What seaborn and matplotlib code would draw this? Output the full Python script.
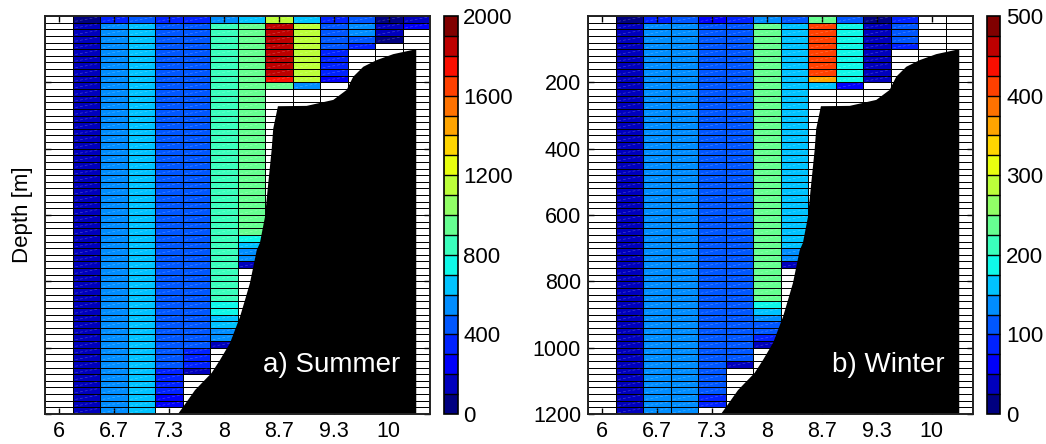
import numpy as np
import pandas as pd
import matplotlib
matplotlib.use("Agg")
import matplotlib.pyplot as plt
import seaborn as sns
from matplotlib.colors import ListedColormap
from matplotlib.collections import LineCollection

nan = np.nan

# ---- grid ----
lon_centers = [6.0, 6.333, 6.667, 7.0, 7.333, 7.667, 8.0, 8.333,
               8.667, 9.0, 9.333, 9.667, 10.0, 10.333]
depth_tops = list(range(0, 1200, 20))          # 60 layers of 20 m
xtick_values = [6.0, 6.667, 7.333, 8.0, 8.667, 9.333, 10.0]
xtick_labels = ["6", "6.7", "7.3", "8", "8.7", "9.3", "10"]
ytick_values = [200, 400, 600, 800, 1000, 1200]
ytick_labels = ["200", "400", "600", "800", "1000", "1200"]
summer_cbar_ticks = [0, 400, 800, 1200, 1600, 2000]
winter_cbar_ticks = [0, 100, 200, 300, 400, 500]

# ---- values: per column, (value, number of 20 m layers) from the surface ----
summer_runs = [
    [(nan, 60)],
    [(50, 1), (150, 59)],
    [(350, 1), (550, 59)],
    [(450, 1), (650, 59)],
    [(350, 1), (450, 52), (350, 4), (250, 2), (nan, 1)],
    [(350, 1), (450, 49), (350, 3), (150, 1), (nan, 6)],
    [(550, 1), (850, 42), (750, 2), (650, 2), (550, 2), (150, 1), (nan, 10)],
    [(650, 1), (950, 32), (750, 1), (650, 1), (550, 2), (150, 1), (nan, 22)],
    [(1150, 1), (1850, 8), (1750, 1), (950, 1), (nan, 49)],
    [(650, 1), (1150, 9), (550, 1), (nan, 49)],
    [(350, 1), (450, 4), (350, 4), (250, 1), (nan, 50)],
    [(450, 1), (550, 2), (450, 1), (350, 1), (nan, 55)],
    [(50, 1), (150, 2), (50, 1), (nan, 56)],
    [(150, 1), (250, 1), (nan, 58)],
]

winter_runs = [
    [(nan, 60)],
    [(12.5, 1), (37.5, 59)],
    [(87.5, 1), (137.5, 59)],
    [(112.5, 1), (137.5, 59)],
    [(62.5, 1), (112.5, 56), (87.5, 2), (nan, 1)],
    [(87.5, 1), (112.5, 51), (37.5, 1), (nan, 7)],
    [(137.5, 1), (237.5, 42), (187.5, 1), (162.5, 1), (137.5, 1),
     (112.5, 2), (87.5, 1), (37.5, 1), (nan, 10)],
    [(112.5, 1), (162.5, 34), (137.5, 2), (37.5, 1), (nan, 22)],
    [(237.5, 1), (412.5, 8), (362.5, 1), (162.5, 1), (nan, 49)],
    [(112.5, 1), (187.5, 9), (62.5, 1), (nan, 49)],
    [(12.5, 1), (37.5, 9), (nan, 50)],
    [(87.5, 1), (112.5, 3), (87.5, 1), (nan, 55)],
    [(nan, 60)],
    [(nan, 60)],
]

# ---- bathymetry (longitude, depth) ----
bathy_lon = [7.446, 7.510, 7.652, 7.854, 7.955, 8.076, 8.197, 8.258, 8.318,
             8.400, 8.439, 8.500, 8.540, 8.581, 8.600, 8.657, 9.005, 9.328,
             9.490, 9.570, 9.692, 9.854, 10.055, 10.333]
bathy_depth = [1200, 1178, 1128, 1076, 1037, 986, 907, 856, 805,
               706, 684, 606, 504, 404, 340, 272, 271, 253,
               223, 183, 153, 133, 115, 100]

# ---- helpers ----
def expand(runs):
    cols = []
    for col in runs:
        vals = []
        for v, n in col:
            vals.extend([v] * n)
        cols.append(vals)
    return pd.DataFrame(np.array(cols).T, index=depth_tops, columns=lon_centers)

dlon = lon_centers[1] - lon_centers[0]
lon_edges = [c - dlon / 2 for c in lon_centers] + [lon_centers[-1] + dlon / 2]
depth_edges = depth_tops + [depth_tops[-1] + 20]

def to_ix(lon):
    return np.interp(lon, lon_edges, np.arange(len(lon_edges)))

def to_iy(dep):
    return np.interp(dep, depth_edges, np.arange(len(depth_edges)))

cmap = ListedColormap(plt.get_cmap("jet", 20)(np.arange(20)))
white = ListedColormap(["white"])

plt.rcParams["font.family"] = ["Liberation Sans", "DejaVu Sans"]
fig = plt.figure(figsize=(10.46, 4.44), dpi=100)
W, H = 1046.0, 444.0
bot, hgt = 30 / H, 398 / H
ax1 = fig.add_axes([45 / W, bot, 385 / W, hgt])
cax1 = fig.add_axes([443.5 / W, bot, 14 / W, hgt])
ax2 = fig.add_axes([588 / W, bot, 385 / W, hgt])
cax2 = fig.add_axes([986.5 / W, bot, 14 / W, hgt])

panels = [
    (ax1, cax1, summer_runs, 2000, summer_cbar_ticks, "a) Summer", 0.922),
    (ax2, cax2, winter_runs, 500, winter_cbar_ticks, "b) Winter", 0.927),
]

EDGE = 0.65

for ax, cax, runs, vmax, cticks, title, tx in panels:
    df = expand(runs)
    bg = pd.DataFrame(np.zeros(df.shape), index=df.index, columns=df.columns)
    sns.heatmap(bg, cmap=white, cbar=False, linewidths=EDGE, linecolor="black",
                xticklabels=False, yticklabels=False, ax=ax)
    sns.heatmap(df, mask=df.isna(), cmap=cmap, vmin=0, vmax=vmax,
                linewidths=EDGE, linecolor="black",
                xticklabels=False, yticklabels=False, ax=ax, cbar_ax=cax,
                cbar_kws={"drawedges": True, "ticks": cticks})

    # faint diagonal seams inside the coloured cells
    segs = []
    arr = df.to_numpy()
    for r in range(arr.shape[0]):
        for c in range(arr.shape[1]):
            if not np.isnan(arr[r, c]):
                segs.append([(c + 0.1, r + 0.8), (c + 0.9, r + 0.2)])
    ax.add_collection(LineCollection(segs, colors=[(1, 1, 1, 0.25)],
                                     linewidths=0.5, linestyles=(0, (4, 3)),
                                     zorder=2))

    # bathymetry
    bx = list(to_ix(bathy_lon)) + [to_ix(bathy_lon[-1])]
    by = list(to_iy(bathy_depth)) + [to_iy(bathy_depth[0])]
    ax.fill(bx, by, color="black", zorder=3, lw=0)

    ax.set_xlim(0, len(lon_centers))
    ax.set_ylim(len(depth_tops), 0)
    ax.set_xticks(to_ix(xtick_values))
    ax.set_xticklabels(xtick_labels, fontsize=15.5)
    ax.set_yticks(to_iy(ytick_values))
    ax.set_yticklabels(ytick_labels, fontsize=15.5)
    ax.tick_params(direction="in", top=True, bottom=True, left=True, right=True,
                   length=4, width=1, color="black", pad=5)
    for sp in ax.spines.values():
        sp.set_visible(True)
        sp.set_linewidth(1.4)
        sp.set_color("#222222")
        sp.set_zorder(5)
    ax.set_xlabel("")
    ax.set_ylabel("")
    ax.text(tx, 0.106, title, transform=ax.transAxes, ha="right", va="baseline",
            color="white", fontsize=20, zorder=6)

    cb = ax.collections[1].colorbar
    cb.outline.set_visible(True)
    cb.outline.set_linewidth(1.2)
    cb.outline.set_edgecolor("black")
    cb.dividers.set_color("black")
    cb.dividers.set_linewidth(1.0)
    cb.set_ticks(cticks)
    cb.ax.set_yticklabels([str(t) for t in cticks])
    cb.ax.tick_params(length=0, labelsize=16, pad=4)

ax1.set_yticklabels([])
ax1.set_ylabel("Depth [m]", fontsize=16)
ax1.yaxis.set_label_coords(-0.03, 0.5)

fig.savefig("out.png", dpi=100)
